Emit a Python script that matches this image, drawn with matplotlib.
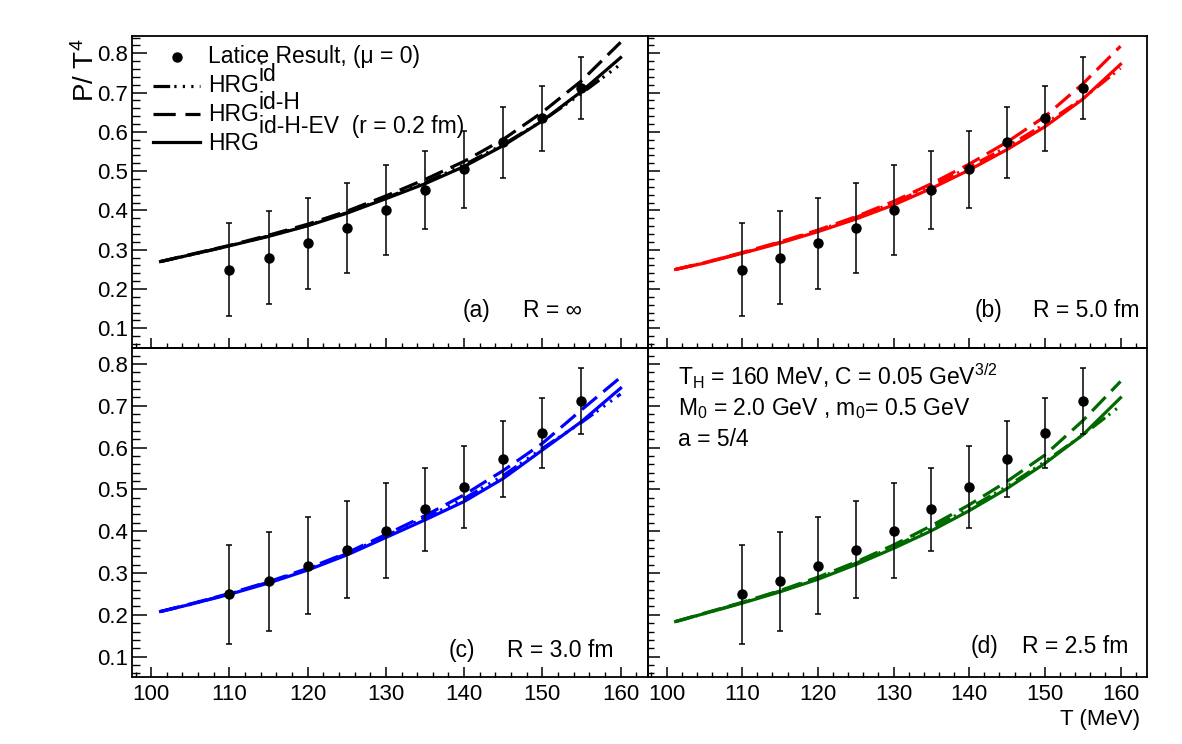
import matplotlib
matplotlib.use("Agg")
import matplotlib.pyplot as plt
from matplotlib.lines import Line2D
from matplotlib.ticker import MultipleLocator

plt.rcParams['font.family'] = ['Liberation Sans', 'DejaVu Sans']
plt.rcParams['mathtext.fontset'] = 'custom'
plt.rcParams['mathtext.rm'] = 'Liberation Sans'
plt.rcParams['mathtext.sf'] = 'Liberation Sans'
plt.rcParams['mathtext.it'] = 'Liberation Sans:italic'
plt.rcParams['lines.scale_dashes'] = False

# ---------------- data ----------------
T_lat = [110, 115, 120, 125, 130, 135, 140, 145, 150, 155]
P_lat = [0.249, 0.280, 0.317, 0.356, 0.401, 0.452, 0.505, 0.573, 0.635, 0.711]
P_err = [0.118, 0.118, 0.116, 0.115, 0.114, 0.100, 0.098, 0.091, 0.083, 0.079]

T_model = [101.2, 105, 110, 115, 120, 125, 130, 135, 140, 145, 150, 155, 160]

# panel (a) R = inf
a_id   = [0.270, 0.287, 0.310, 0.335, 0.362, 0.394, 0.432, 0.471, 0.516, 0.568, 0.628, 0.698, 0.772]
a_idH  = [0.270, 0.288, 0.311, 0.337, 0.365, 0.398, 0.437, 0.479, 0.525, 0.581, 0.650, 0.730, 0.828]
a_EV   = [0.270, 0.287, 0.310, 0.334, 0.361, 0.393, 0.430, 0.468, 0.512, 0.565, 0.628, 0.703, 0.789]
# panel (b) R = 5.0 fm
b_id   = [0.250, 0.267, 0.292, 0.319, 0.349, 0.382, 0.420, 0.462, 0.510, 0.562, 0.620, 0.685, 0.762]
b_idH  = [0.250, 0.267, 0.293, 0.320, 0.350, 0.384, 0.423, 0.468, 0.518, 0.574, 0.639, 0.722, 0.818]
b_EV   = [0.250, 0.266, 0.291, 0.317, 0.346, 0.378, 0.414, 0.456, 0.503, 0.555, 0.613, 0.683, 0.772]
# panel (c) R = 3.0 fm
c_id   = [0.208, 0.225, 0.250, 0.278, 0.309, 0.346, 0.389, 0.432, 0.478, 0.533, 0.598, 0.660, 0.728]
c_idH  = [0.208, 0.226, 0.251, 0.279, 0.311, 0.348, 0.392, 0.437, 0.487, 0.545, 0.610, 0.690, 0.768]
c_EV   = [0.208, 0.225, 0.249, 0.276, 0.307, 0.343, 0.385, 0.427, 0.471, 0.526, 0.594, 0.662, 0.742]
# panel (d) R = 2.5 fm
d_id   = [0.184, 0.203, 0.229, 0.257, 0.288, 0.323, 0.363, 0.406, 0.455, 0.507, 0.566, 0.630, 0.700]
d_idH  = [0.184, 0.204, 0.230, 0.258, 0.290, 0.326, 0.367, 0.413, 0.463, 0.519, 0.582, 0.664, 0.758]
d_EV   = [0.184, 0.203, 0.228, 0.255, 0.285, 0.320, 0.359, 0.401, 0.449, 0.502, 0.562, 0.630, 0.719]

panel_tags = ['(a)', '(b)', '(c)', '(d)']
panel_R = ['R = \u221e', 'R = 5.0 fm', 'R = 3.0 fm', 'R = 2.5 fm']
panel_colors = ['black', '#ff0000', '#0000ff', '#006a00']
x_ticklabels = ['100', '110', '120', '130', '140', '150', '160']
y_ticklabels = ['0.1', '0.2', '0.3', '0.4', '0.5', '0.6', '0.7', '0.8']

# ---------------- layout ----------------
W, H = 1182, 744
fig = plt.figure(figsize=(W / 100, H / 100), dpi=100)


def rect(l, r, t, b):
    return [l / W, 1 - b / H, (r - l) / W, (b - t) / H]


def ftext(x, y, s, **kw):
    fig.text(x / W, 1 - y / H, s, **kw)


rects = [rect(132, 648, 36, 348), rect(648, 1147, 36, 348),
         rect(132, 648, 348, 677), rect(648, 1147, 348, 677)]
ylims = [(0.050, 0.844), (0.050, 0.844), (0.0514, 0.838), (0.0514, 0.838)]
curves = [(a_id, a_idH, a_EV), (b_id, b_idH, b_EV), (c_id, c_idH, c_EV), (d_id, d_idH, d_EV)]

DASHDOT = (0, (12, 3, 1.6, 4.5, 1.6, 4.5, 1.6, 4.5))
DASHED = (0, (14, 6))
LW = 2.3
FS = 16.5

axes = []
for i in range(4):
    ax = fig.add_axes(rects[i])
    axes.append(ax)
    col = panel_colors[i]
    cid, cidH, cEV = curves[i]
    ax.plot(T_model, cid, color=col, lw=LW, linestyle=DASHDOT)
    ax.plot(T_model, cidH, color=col, lw=LW, linestyle=DASHED)
    ax.plot(T_model, cEV, color=col, lw=LW, linestyle='-')
    ax.errorbar(T_lat, P_lat, yerr=P_err, fmt='o', color='black', ms=6.5,
                elinewidth=1.1, capsize=2.2, capthick=1.1, zorder=5)
    ax.set_xlim(97.55, 163.5)
    ax.set_ylim(*ylims[i])
    ax.xaxis.set_major_locator(MultipleLocator(10))
    ax.xaxis.set_minor_locator(MultipleLocator(2))
    ax.yaxis.set_major_locator(MultipleLocator(0.1))
    ax.yaxis.set_minor_locator(MultipleLocator(0.02))
    left = (i % 2 == 0)
    ylen = 10.8 if left else 8.6
    ax.tick_params(axis='y', which='major', direction='in', length=ylen, width=1.1,
                   labelsize=16, left=True, right=False, labelleft=left, pad=3)
    ax.tick_params(axis='y', which='minor', direction='in', length=ylen / 2, width=1.0,
                   left=True, right=False)
    ax.tick_params(axis='x', which='major', direction='in', length=7.2, width=1.1,
                   labelsize=16, bottom=True, top=False, labelbottom=(i >= 2), pad=5)
    ax.tick_params(axis='x', which='minor', direction='in', length=3.6, width=1.0,
                   bottom=True, top=False)
    if i >= 2:
        ax.set_xticks([100, 110, 120, 130, 140, 150, 160])
        ax.set_xticklabels(x_ticklabels)
    if left:
        ax.set_yticks([0.1, 0.2, 0.3, 0.4, 0.5, 0.6, 0.7, 0.8])
        ax.set_yticklabels(y_ticklabels)
    for sp in ax.spines.values():
        sp.set_linewidth(1.3)
    ax.patch.set_alpha(0)

# panel annotations (baseline positions in pixels)
tag_pos = [(463, 316.7, 523), (975, 316.7, 1033), (449, 656.7, 507), (971, 653.3, 1022)]
for i, (xt, yb, xr) in enumerate(tag_pos):
    ftext(xt, yb, panel_tags[i], fontsize=FS, va='baseline', ha='left')
    ftext(xr, yb, panel_R[i], fontsize=FS, va='baseline', ha='left')

# legend (panel a)
fig.add_artist(Line2D([176.7 / W], [1 - 56.7 / H], marker='o', color='black', ms=6.5, lw=0))
fig.add_artist(Line2D([153 / W, 200 / W], [1 - 85.7 / H] * 2, color='black', lw=LW, linestyle=DASHDOT))
fig.add_artist(Line2D([153 / W, 200 / W], [1 - 114 / H] * 2, color='black', lw=LW, linestyle=(0, (16, 7))))
fig.add_artist(Line2D([153 / W, 200 / W], [1 - 142.3 / H] * 2, color='black', lw=LW))
ftext(208, 63, 'Latice Result, (\u03bc = 0)', fontsize=FS, va='baseline')
ftext(208, 92, 'HRG', fontsize=FS, va='baseline')
ftext(259, 81, 'id', fontsize=FS, va='baseline')
ftext(208, 121, 'HRG', fontsize=FS, va='baseline')
ftext(259, 109, 'id-H', fontsize=FS, va='baseline')
ftext(208, 150, 'HRG', fontsize=FS, va='baseline')
ftext(259, 133, 'id-H-EV  (r = 0.2 fm)', fontsize=FS, va='baseline')

# panel (d) parameters
ftext(678, 385, r'T$_{\mathrm{H}}$ = 160 MeV, C = 0.05 GeV$^{3/2}$', fontsize=FS, va='baseline')
ftext(678, 415, r'M$_{0}$ = 2.0 GeV , m$_{0}$= 0.5 GeV', fontsize=FS, va='baseline')
ftext(678, 446.5, 'a = 5/4', fontsize=FS, va='baseline')

# axis titles
ftext(1140, 725, 'T (MeV)', fontsize=16, ha='right', va='baseline')
ftext(86, 38, r'P/ T$^{4}$', fontsize=20, rotation=90, ha='center', va='top')

fig.savefig('out.png', dpi=100)
